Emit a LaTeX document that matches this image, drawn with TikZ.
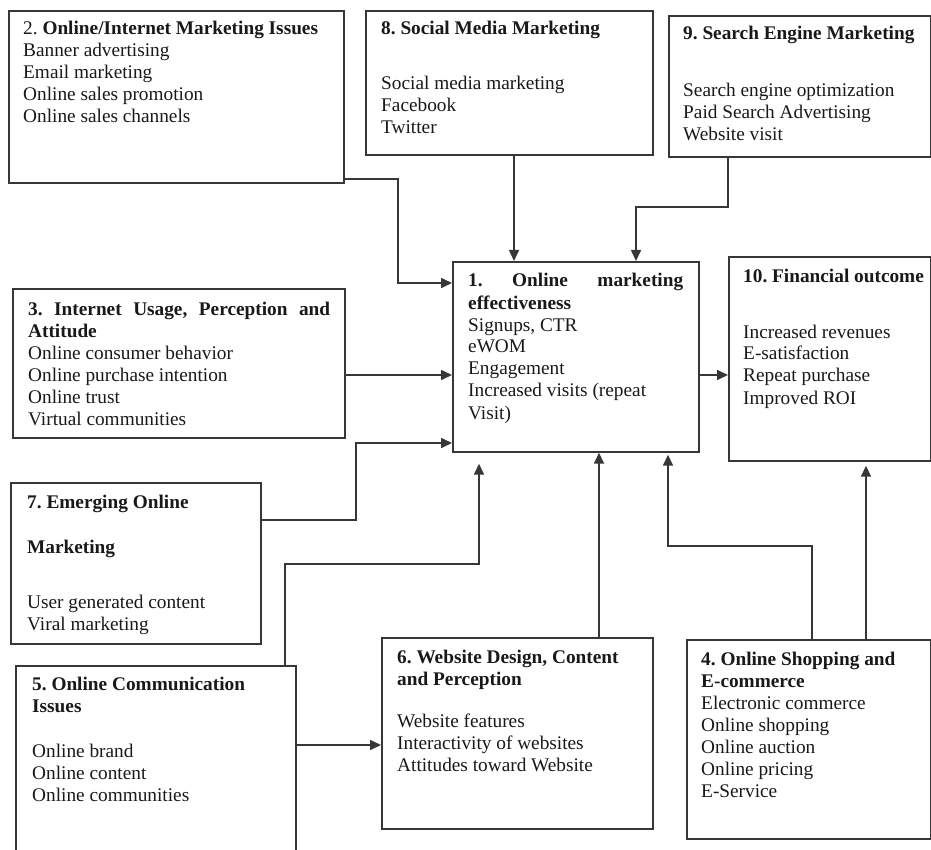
\documentclass[tikz,border=0pt]{standalone}
\usepackage{fontspec}
\setmainfont{Liberation Serif}
\usetikzlibrary{arrows.meta}
\definecolor{ink}{RGB}{25,25,25}
\definecolor{rulegray}{RGB}{55,55,55}
\tikzset{
  panel/.style={draw=rulegray, line width=1.7pt, anchor=north west, inner sep=0pt},
  boxtext/.style={anchor=base west, inner sep=0pt, text=ink,
    font=\fontsize{19.3}{22}\selectfont},
  connector/.style={draw=rulegray, line width=1.6pt},
  arrowline/.style={connector, -{Triangle[length=11pt,width=10pt]}},
}
\frenchspacing
% text block whose reference point is the baseline of its first line
\newcommand{\blocktext}[1]{\parbox[t]{330pt}{\raggedright\frenchspacing #1}}

\begin{document}
\begin{tikzpicture}[x=1pt,y=-1pt]
\fill[white] (0,0) rectangle (931,850);
\clip (0,0) rectangle (931,850);

% ---- boxes ----
\node[panel, minimum width=335pt, minimum height=172pt] (b2)  at (8,10)    {};
\node[panel, minimum width=287pt, minimum height=144pt] (b8)  at (365,10)  {};
\node[panel, minimum width=262pt, minimum height=141pt] (b9)  at (668,15)  {};
\node[panel, minimum width=246pt, minimum height=190pt] (b1)  at (452,261) {};
\node[panel, minimum width=202pt, minimum height=204pt] (b10) at (728,256) {};
\node[panel, minimum width=332pt, minimum height=149pt] (b3)  at (12,288)  {};
\node[panel, minimum width=250pt, minimum height=161pt] (b7)  at (10,482)  {};
\node[panel, minimum width=280pt, minimum height=190pt] (b5)  at (15,665)  {};
\node[panel, minimum width=271pt, minimum height=191pt] (b6)  at (381,637) {};
\node[panel, minimum width=244pt, minimum height=199pt] (b4)  at (686,639) {};

% ---- box contents ----
\node[boxtext] (t2) at (23,35) {\blocktext{2. \textbf{Online/Internet Marketing Issues}\\
  Banner advertising\\ Email marketing\\ Online sales promotion\\ Online sales channels}};
\node[boxtext] (t8) at (381,35) {\blocktext{\textbf{8. Social Media Marketing}\\[33pt]
  Social media marketing\\ Facebook\\ Twitter}};
\node[boxtext] (t9) at (683,40) {\blocktext{\textbf{9. Search Engine Marketing}\\[35pt]
  Search engine optimization\\ Paid Search Advertising\\ Website visit}};
\node[boxtext] (t1) at (468,287) {\blocktext{\makebox[215pt][s]{\bfseries 1. Online marketing}\\
  \textbf{effectiveness}\\ Signups, CTR\\ eWOM\\ Engagement\\ Increased visits (repeat\\ Visit)}};
\node[boxtext] (t10) at (743,283) {\blocktext{\textbf{10. Financial outcome}\\[33pt]
  Increased revenues\\ E-satisfaction\\ Repeat purchase\\ Improved ROI}};
\node[boxtext] (t3) at (28,315) {\blocktext{\makebox[302pt][s]{\bfseries 3. Internet Usage, Perception and}\\
  \textbf{Attitude}\\ Online consumer behavior\\ Online purchase intention\\ Online trust\\ Virtual communities}};
\node[boxtext] (t7) at (27,508) {\blocktext{\textbf{7. Emerging Online}\\[23pt]
  \textbf{Marketing}\\[33pt] User generated content\\ Viral marketing}};
\node[boxtext] (t5) at (32,690) {\blocktext{\textbf{5. Online Communication}\\
  \textbf{Issues}\\[23pt] Online brand\\ Online content\\ Online communities}};
\node[boxtext] (t6) at (397,663) {\blocktext{\textbf{6. Website Design, Content}\\
  \textbf{and Perception}\\[20pt] Website features\\ Interactivity of websites\\ Attitudes toward Website}};
\node[boxtext] (t4) at (701,665) {\blocktext{\textbf{4. Online Shopping and}\\
  \textbf{E-commerce}\\ Electronic commerce\\ Online shopping\\ Online auction\\ Online pricing\\ E-Service}};

% ---- connectors into box 1 ----
\draw[arrowline] (b2.east |- 0,179) -- (398,179) -- (398,283) -- (b1.west |- 0,283);
\draw[arrowline] (b8.south -| 514,0) -- (b1.north -| 514,0);
\draw[arrowline] (b9.south -| 728,0) -- (728,207) -- (636,207) -- (b1.north -| 636,0);
\draw[arrowline] (b3.east |- 0,375) -- (b1.west |- 0,375);
\draw[arrowline] (b7.east |- 0,520) -- (356,520) -- (356,443) -- (b1.west |- 0,443);
\draw[arrowline, shorten >=11pt] (b5.north -| 285,0) -- (285,564) -- (479,564) -- (b1.south -| 479,0);
\draw[arrowline] (b6.north -| 599,0) -- (b1.south -| 599,0);
\draw[arrowline, shorten >=2pt] (b4.north -| 812,0) -- (812,546) -- (668,546) -- (b1.south -| 668,0);

% ---- other connectors ----
\draw[arrowline] (b1.east |- 0,375) -- (b10.west |- 0,375);
\draw[arrowline, shorten >=4pt] (b4.north -| 866,0) -- (b10.south -| 866,0);
\draw[arrowline] (b5.east |- 0,745) -- (b6.west |- 0,745);
\end{tikzpicture}
\end{document}
